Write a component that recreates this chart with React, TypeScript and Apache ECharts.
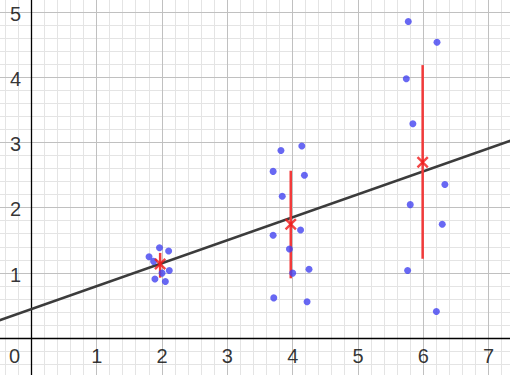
import React, { useEffect, useRef } from 'react';
import * as echarts from 'echarts';

// Sample points (blue)
const pointsX = [1.96, 2.10, 1.80, 1.87, 2.11, 2.00, 1.89, 2.05,
  3.82, 4.14, 3.70, 4.18, 3.84, 4.12, 3.70, 3.95, 4.25, 4.00, 3.71, 4.22,
  5.77, 6.21, 5.74, 5.84, 6.33, 5.80, 6.29, 5.76, 6.20];
const pointsY = [1.39, 1.34, 1.25, 1.18, 1.04, 1.00, 0.91, 0.87,
  2.88, 2.95, 2.56, 2.50, 2.18, 1.66, 1.58, 1.37, 1.06, 1.00, 0.62, 0.56,
  4.86, 4.54, 3.98, 3.29, 2.36, 2.05, 1.75, 1.04, 0.41];

// Group means (red crosses) and spread bars (red vertical lines)
const meanX = [1.97, 3.97, 5.99];
const meanY = [1.14, 1.75, 2.70];
const errLow = [0.93, 0.92, 1.22];
const errHigh = [1.31, 2.57, 4.19];

// Regression line end points
const trendX = [-0.5, 7.4];
const trendY = [0.274, 3.055];

// Tick labels
const xTickLabels = [1, 2, 3, 4, 5, 6, 7];
const yTickLabels = [1, 2, 3, 4, 5];
const originLabel = ['0'];

const X_MIN = -0.4824, X_MAX = 7.3277, Y_MIN = -0.5629, Y_MAX = 5.1887;
const FONT = "'Liberation Sans', Arial, Helvetica, sans-serif";

function gridValues(lo: number, hi: number, step: number, major: boolean): number[] {
  const out: number[] = [];
  const start = Math.ceil(lo / step - 1e-9);
  const end = Math.floor(hi / step + 1e-9);
  for (let i = start; i <= end; i++) {
    const v = Math.round(i * step * 1000) / 1000;
    const isInt = Math.abs(v - Math.round(v)) < 1e-6;
    if (major && isInt && v !== 0) out.push(v);
    if (!major && !isInt) out.push(v);
  }
  return out;
}

const crisp = (p: number) => Math.floor(p) + 0.5;

function vLineSeries(values: number[], color: string, width: number, z: number) {
  return {
    type: 'custom', silent: true, z,
    data: values.map((v) => [v, 0]),
    renderItem: (_p: any, api: any) => {
      const v = api.value(0);
      const a = api.coord([v, Y_MIN]);
      const b = api.coord([v, Y_MAX]);
      const x = crisp(a[0]);
      return { type: 'line', shape: { x1: x, y1: a[1] + 5, x2: x, y2: b[1] - 5 }, style: { stroke: color, lineWidth: width } };
    },
  };
}

function hLineSeries(values: number[], color: string, width: number, z: number) {
  return {
    type: 'custom', silent: true, z,
    data: values.map((v) => [0, v]),
    renderItem: (_p: any, api: any) => {
      const v = api.value(1);
      const a = api.coord([X_MIN, v]);
      const b = api.coord([X_MAX, v]);
      const y = crisp(a[1]);
      return { type: 'line', shape: { x1: a[0] - 5, y1: y, x2: b[0] + 5, y2: y }, style: { stroke: color, lineWidth: width } };
    },
  };
}

const CROSS = 'path://M0,1.4 L1.4,0 L5,3.6 L8.6,0 L10,1.4 L6.4,5 L10,8.6 L8.6,10 L5,6.4 L1.4,10 L0,8.6 L3.6,5 Z';

export default function App() {
  const ref = useRef<HTMLDivElement>(null);
  useEffect(() => {
    if (!ref.current) return;
    const chart = echarts.init(ref.current, undefined, { renderer: 'svg' });
    const labelBase = { show: true, position: 'inside', fontSize: 20, fontFamily: FONT, color: '#000' };
    chart.setOption({
      animation: false,
      backgroundColor: '#ffffff',
      grid: { left: 0, right: 0, top: 0, bottom: 0, containLabel: false },
      xAxis: { type: 'value', min: X_MIN, max: X_MAX, show: false },
      yAxis: { type: 'value', min: Y_MIN, max: Y_MAX, show: false },
      series: [
        vLineSeries(gridValues(X_MIN, X_MAX, 0.2, false), '#e4e4e4', 1, 1),
        hLineSeries(gridValues(Y_MIN, Y_MAX, 0.2, false), '#e4e4e4', 1, 1),
        vLineSeries(gridValues(X_MIN, X_MAX, 1, true), '#c0c0c0', 1, 2),
        hLineSeries(gridValues(Y_MIN, Y_MAX, 1, true), '#c0c0c0', 1, 2),
        // axes
        {
          type: 'custom', silent: true, z: 3,
          data: [[0, 0]],
          renderItem: (_p: any, api: any) => {
            const o = api.coord([0, 0]);
            const l = api.coord([X_MIN, 0]);
            const r = api.coord([X_MAX, 0]);
            const t = api.coord([0, Y_MAX]);
            const b = api.coord([0, Y_MIN]);
            const ox = crisp(o[0]);
            const oy = crisp(o[1]);
            return {
              type: 'group',
              children: [
                { type: 'line', shape: { x1: l[0] - 5, y1: oy, x2: r[0] + 5, y2: oy }, style: { stroke: '#000', lineWidth: 1.3 } },
                { type: 'line', shape: { x1: ox, y1: t[1] - 5, x2: ox, y2: b[1] + 5 }, style: { stroke: '#000', lineWidth: 1.3 } },
              ],
            };
          },
        },
        // regression line
        {
          type: 'line', silent: true, z: 4,
          data: trendX.map((x, i) => [x, trendY[i]]),
          showSymbol: false, symbol: 'none',
          lineStyle: { color: '#3c3c3c', width: 2.6 },
        },
        // spread bars
        {
          type: 'custom', silent: true, z: 5,
          data: meanX.map((x, i) => [x, errLow[i], errHigh[i]]),
          renderItem: (_p: any, api: any) => {
            const a = api.coord([api.value(0), api.value(1)]);
            const b = api.coord([api.value(0), api.value(2)]);
            return { type: 'line', shape: { x1: a[0], y1: a[1], x2: b[0], y2: b[1] }, style: { stroke: '#f23a3a', lineWidth: 2.5 } };
          },
        },
        // points
        {
          type: 'scatter', silent: true, z: 6,
          data: pointsX.map((x, i) => [x, pointsY[i]]),
          symbol: 'circle', symbolSize: 7,
          itemStyle: { color: '#4242f0' },
        },
        // means
        {
          type: 'scatter', silent: true, z: 7,
          data: meanX.map((x, i) => [x, meanY[i]]),
          symbol: CROSS, symbolSize: 12,
          itemStyle: { color: '#f01818' },
        },
        // x tick labels
        {
          type: 'scatter', silent: true, z: 8,
          data: xTickLabels.map((v) => [v, 0]),
          symbolSize: 1, itemStyle: { color: 'rgba(0,0,0,0)' },
          label: { ...labelBase, offset: [0, 17.5], formatter: (p: any) => String(p.value[0]) },
        },
        // y tick labels
        {
          type: 'scatter', silent: true, z: 8,
          data: yTickLabels.map((v) => [0, v]),
          symbolSize: 1, itemStyle: { color: 'rgba(0,0,0,0)' },
          label: { ...labelBase, align: 'right', offset: [-10.5, 1.5], formatter: (p: any) => String(p.value[1]) },
        },
        // origin label
        {
          type: 'scatter', silent: true, z: 8,
          data: originLabel.map((s) => ({ value: [0, 0], name: s })),
          symbolSize: 1, itemStyle: { color: 'rgba(0,0,0,0)' },
          label: { ...labelBase, align: 'right', offset: [-11.5, 17.5], formatter: (p: any) => p.name },
        },
      ],
    });
    return () => chart.dispose();
  }, []);
  return <div ref={ref} style={{ position: 'fixed', left: 0, top: 0, width: 510, height: 375 }} />;
}
